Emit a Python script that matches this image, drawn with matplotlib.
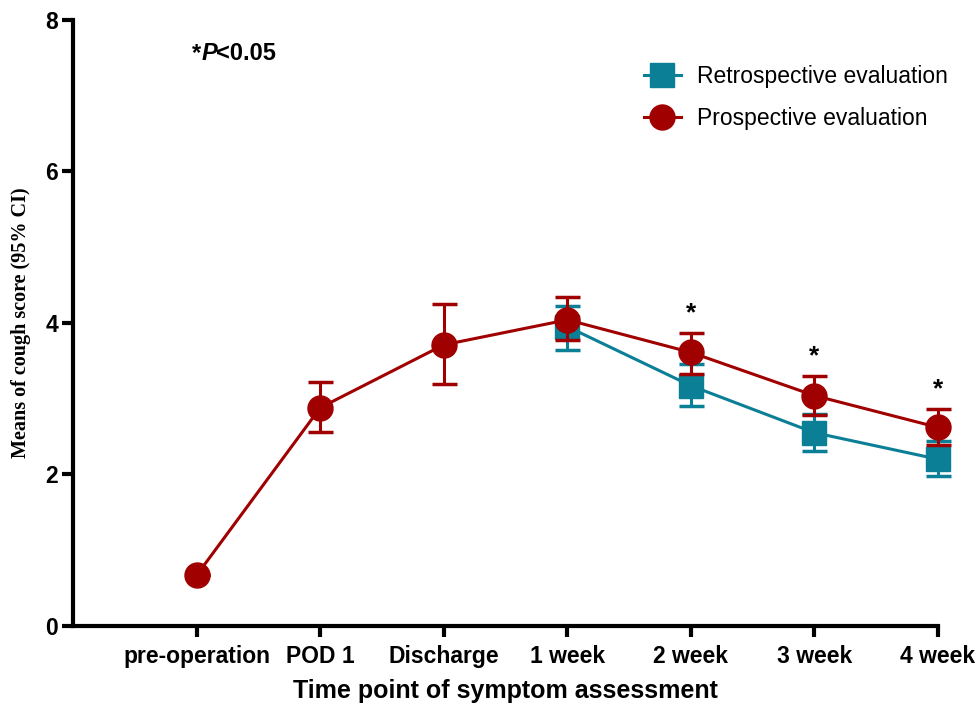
import numpy as np
import matplotlib.pyplot as plt
from matplotlib.lines import Line2D

# time points on the x axis
labels = ['pre-operation', 'POD 1', 'Discharge', '1 week', '2 week', '3 week', '4 week']

# prospective evaluation: mean and 95% CI for every time point
pro_x = [1, 2, 3, 4, 5, 6, 7]
pro_mean = [0.67, 2.88, 3.71, 4.04, 3.61, 3.04, 2.62]
pro_low = [0.67, 2.56, 3.19, 3.78, 3.33, 2.79, 2.39]
pro_high = [0.67, 3.22, 4.25, 4.34, 3.87, 3.30, 2.86]

# retrospective evaluation only from 1 week on
retro_x = [4, 5, 6, 7]
retro_mean = [3.95, 3.17, 2.55, 2.20]
retro_low = [3.64, 2.90, 2.31, 1.98]
retro_high = [4.22, 3.46, 2.80, 2.44]

# time points with significant difference
sig_x = [5, 6, 7]

red = '#A00000'
teal = '#0A7F96'
sans = 'Liberation Sans'

fig = plt.figure(figsize=(9.76, 7.08), dpi=100)
ax = fig.add_axes([0.075, 0.116, 0.886, 0.856])

rm = np.array(retro_mean)
eb = ax.errorbar(retro_x, rm, yerr=[rm - np.array(retro_low), np.array(retro_high) - rm],
                 color=teal, marker='s', markersize=17, linewidth=2.2, elinewidth=2.2,
                 capsize=9, capthick=2.5, zorder=3)
for a in eb.lines[0:1] + tuple(eb.lines[1]) + tuple(eb.lines[2]):
    a.set_clip_on(False)

pm = np.array(pro_mean)
eb = ax.errorbar(pro_x, pm, yerr=[pm - np.array(pro_low), np.array(pro_high) - pm],
                 color=red, marker='o', markersize=18, linewidth=2.2, elinewidth=2.2,
                 capsize=9, capthick=2.5, zorder=4)
for a in eb.lines[0:1] + tuple(eb.lines[1]) + tuple(eb.lines[2]):
    a.set_clip_on(False)

# significance stars above the upper CI
for x in sig_x:
    top = max(pro_high[x - 1], retro_high[retro_x.index(x)])
    ax.text(x, top + 0.1, '*', ha='center', va='bottom', fontsize=19,
            fontweight='bold', family=sans)

# significance note
ax.text(0.96, 7.56, '*', ha='left', va='center', fontsize=17, fontweight='bold', family=sans)
ax.text(1.04, 7.56, 'P', ha='left', va='center', fontsize=17, fontweight='bold',
        fontstyle='italic', family=sans)
ax.text(1.16, 7.56, '<0.05', ha='left', va='center', fontsize=17, fontweight='bold',
        family=sans)

ax.set_xlim(0, 7)
ax.set_ylim(0, 8)
ax.set_xticks(pro_x)
ax.set_xticklabels(labels, fontsize=16.5, fontweight='bold', family=sans)
ax.set_yticks([0, 2, 4, 6, 8])
ax.set_yticklabels(['0', '2', '4', '6', '8'], fontsize=16.5, fontweight='bold', family=sans)
ax.tick_params(axis='both', length=8, width=3)
ax.tick_params(axis='x', pad=6)
ax.tick_params(axis='y', pad=3)

ax.spines['top'].set_visible(False)
ax.spines['right'].set_visible(False)
ax.spines['left'].set_linewidth(3)
ax.spines['bottom'].set_linewidth(3)

ax.set_xlabel('Time point of symptom assessment', fontsize=18, fontweight='bold',
              family=sans, labelpad=8)
ax.set_ylabel('Means of cough score (95% CI)', fontsize=14.5, fontweight='bold',
              family='Liberation Serif', labelpad=10)

handles = [
    Line2D([], [], color=teal, marker='s', markersize=17, linewidth=2.2),
    Line2D([], [], color=red, marker='o', markersize=18, linewidth=2.2),
]
ax.legend(handles, ['Retrospective evaluation', 'Prospective evaluation'],
          loc='upper right', bbox_to_anchor=(1.035, 0.96), frameon=False,
          prop={'family': sans, 'size': 16.5}, handlelength=1.6,
          handletextpad=0.7, labelspacing=0.85)

fig.savefig('out.png', dpi=100)
